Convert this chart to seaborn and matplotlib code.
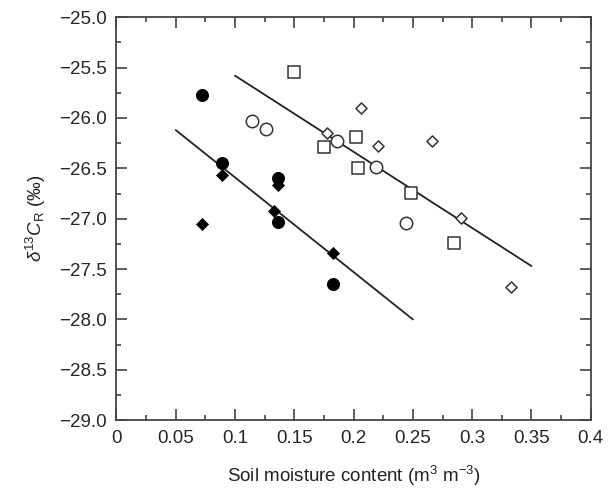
import numpy as np
import pandas as pd
import matplotlib
matplotlib.use('Agg')
import matplotlib.pyplot as plt
from matplotlib.ticker import MultipleLocator
import seaborn as sns

sns.set_style('ticks')
plt.rcParams['font.family'] = ['Liberation Sans', 'DejaVu Sans']
plt.rcParams['mathtext.fontset'] = 'custom'
plt.rcParams['mathtext.rm'] = 'Liberation Sans'
plt.rcParams['mathtext.it'] = 'Liberation Sans:italic'

# dry sites, filled symbols
filled_circle_x = [0.072, 0.089, 0.136, 0.136, 0.183]
filled_circle_y = [-25.77, -26.45, -26.60, -27.03, -27.65]
filled_diamond_x = [0.089, 0.072, 0.136, 0.133, 0.183]
filled_diamond_y = [-26.57, -27.05, -26.67, -26.92, -27.34]

# wet sites, open symbols
open_circle_x = [0.114, 0.126, 0.186, 0.219, 0.244]
open_circle_y = [-26.03, -26.11, -26.23, -26.49, -27.04]
open_square_x = [0.150, 0.175, 0.202, 0.204, 0.248, 0.285]
open_square_y = [-25.54, -26.29, -26.19, -26.50, -26.74, -27.24]
open_diamond_x = [0.206, 0.178, 0.221, 0.266, 0.291, 0.333]
open_diamond_y = [-25.90, -26.15, -26.28, -26.23, -26.99, -27.68]

# fitted lines (end points)
fit_dry_x = [0.05, 0.25]
fit_dry_y = [-26.12, -28.00]
fit_wet_x = [0.10, 0.35]
fit_wet_y = [-25.58, -27.47]

fig = plt.figure(figsize=(6.16, 4.92), dpi=100)
ax = fig.add_axes([0.189, 0.146, 0.770, 0.819])

ax.plot(fit_dry_x, fit_dry_y, color='#222222', lw=1.3, zorder=1)
ax.plot(fit_wet_x, fit_wet_y, color='#222222', lw=1.3, zorder=1)

sns.scatterplot(x=filled_circle_x, y=filled_circle_y, marker='o', s=75,
                color='black', edgecolor='black', ax=ax, zorder=3)
sns.scatterplot(x=filled_diamond_x, y=filled_diamond_y, marker='D', s=38,
                color='black', edgecolor='black', ax=ax, zorder=3)
sns.scatterplot(x=open_circle_x, y=open_circle_y, marker='o', s=80,
                facecolor='white', edgecolor='#333333', linewidth=1.1, ax=ax, zorder=3)
sns.scatterplot(x=open_square_x, y=open_square_y, marker='s', s=85,
                facecolor='white', edgecolor='#333333', linewidth=1.1, ax=ax, zorder=3)
sns.scatterplot(x=open_diamond_x, y=open_diamond_y, marker='D', s=32,
                facecolor='white', edgecolor='#333333', linewidth=1.1, ax=ax, zorder=3)

ax.set_xlim(0, 0.4)
ax.set_ylim(-29.0, -25.0)
ax.xaxis.set_major_locator(MultipleLocator(0.05))
ax.xaxis.set_minor_locator(MultipleLocator(0.025))
ax.yaxis.set_major_locator(MultipleLocator(0.5))
ax.yaxis.set_minor_locator(MultipleLocator(0.25))
xt = np.arange(0, 0.401, 0.05)
ax.set_xticks(xt)
ax.set_xticklabels(['0' if v == 0 else f'{v:.2f}'.rstrip('0') for v in xt])
ax.yaxis.set_major_formatter(matplotlib.ticker.FuncFormatter(
    lambda v, p: f'{v:.1f}'.replace('-', '\u2212')))

ax.tick_params(which='both', direction='in', top=True, right=True,
               color='#333333', labelsize=13.5, pad=7)
ax.tick_params(which='major', length=8, width=1.1)
ax.tick_params(which='minor', length=3.5, width=1.1)
for sp in ax.spines.values():
    sp.set_color('#444444')
    sp.set_linewidth(1.3)

ax.set_xlabel('Soil moisture content (m$^3$ m$^{-3}$)', fontsize=13.5, labelpad=12,
              color='#222222')
ax.set_ylabel(r'$\delta^{13}C_\mathrm{R}$ (‰)', fontsize=13.5, labelpad=8,
              color='#222222')

fig.savefig('out.png', dpi=100)
